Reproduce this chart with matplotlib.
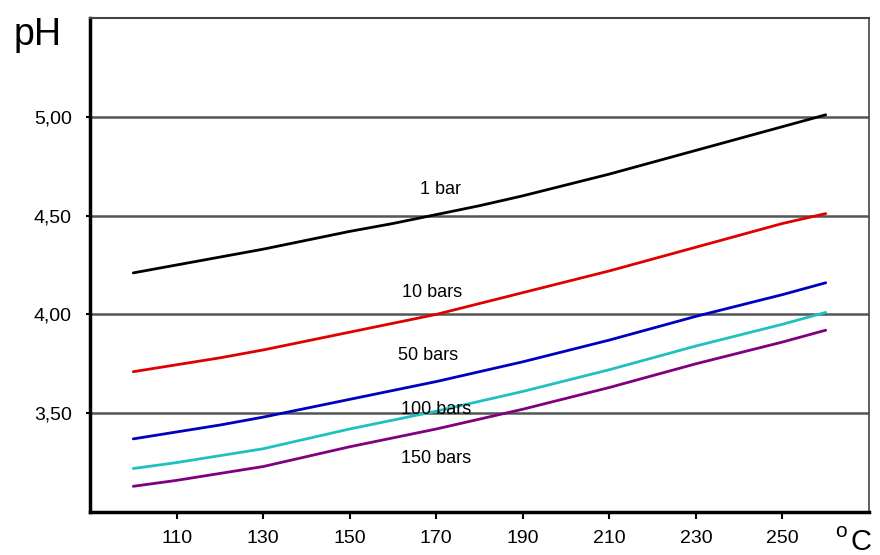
import matplotlib
matplotlib.use('Agg')
import matplotlib.pyplot as plt

plt.rcParams['font.family'] = ['Liberation Sans', 'DejaVu Sans']

temps = [100, 110, 120, 130, 140, 150, 160, 170, 180, 190, 200, 210, 220, 230, 240, 250, 260]
ph_1 = [4.21, 4.25, 4.29, 4.33, 4.375, 4.42, 4.46, 4.505, 4.55, 4.60, 4.655, 4.71, 4.77, 4.83, 4.89, 4.95, 5.01]
ph_10 = [3.71, 3.745, 3.78, 3.82, 3.865, 3.91, 3.955, 4.00, 4.055, 4.11, 4.165, 4.22, 4.28, 4.34, 4.40, 4.46, 4.51]
ph_50 = [3.37, 3.405, 3.44, 3.48, 3.525, 3.57, 3.615, 3.66, 3.71, 3.76, 3.815, 3.87, 3.93, 3.99, 4.045, 4.10, 4.16]
ph_100 = [3.22, 3.25, 3.285, 3.32, 3.37, 3.42, 3.465, 3.51, 3.56, 3.61, 3.665, 3.72, 3.78, 3.84, 3.895, 3.95, 4.01]
ph_150 = [3.13, 3.16, 3.195, 3.23, 3.28, 3.33, 3.375, 3.42, 3.47, 3.52, 3.575, 3.63, 3.69, 3.75, 3.805, 3.86, 3.92]

labels = ['1 bar', '10 bars', '50 bars', '100 bars', '150 bars']
label_pos = [(171, 4.63), (169, 4.11), (168, 3.79), (170, 3.52), (170, 3.27)]
colors = ['black', '#e00000', '#0000c0', '#20c0c0', '#800080']

xticks = [110, 130, 150, 170, 190, 210, 230, 250]
yticks = [3.5, 4.0, 4.5, 5.0]
ytick_labels = ['3,50', '4,00', '4,50', '5,00']

fig = plt.figure(figsize=(8.8, 5.55), dpi=100)
ax = fig.add_axes([0.1023, 0.0775, 0.8852, 0.8901])

for ys, c in zip([ph_1, ph_10, ph_50, ph_100, ph_150], colors):
    ax.plot(temps, ys, color=c, lw=2, solid_capstyle='round', zorder=3)

for lab, (x, y) in zip(labels, label_pos):
    ax.text(x, y, lab, ha='center', va='center', fontsize=13, zorder=4)

for y in yticks:
    ax.axhline(y, color='#555555', lw=1.8, zorder=1)

ax.set_xlim(90, 270)
ax.set_ylim(3.0, 5.5)
ax.set_xticks(xticks)
ax.set_xticklabels([str(t) for t in xticks], fontsize=14)
ax.set_yticks(yticks)
ax.set_yticklabels(ytick_labels, fontsize=14)
ax.tick_params(axis='x', direction='out', length=5, width=1.5, pad=8)
ax.tick_params(axis='y', direction='out', length=3, width=1.5, pad=10)

ax.spines['left'].set_linewidth(2.5)
ax.spines['bottom'].set_linewidth(2.5)
ax.spines['top'].set_linewidth(1.5)
ax.spines['top'].set_color('#444444')
ax.spines['right'].set_linewidth(1.2)
ax.spines['right'].set_color('#444444')

fig.text(0.043, 0.937, 'pH', fontsize=27, ha='center', va='center')
fig.text(0.956, 0.043, 'o', fontsize=15, ha='center', va='center')
fig.text(0.978, 0.024, 'C', fontsize=21, ha='center', va='center')

fig.savefig('out.png', dpi=100)
